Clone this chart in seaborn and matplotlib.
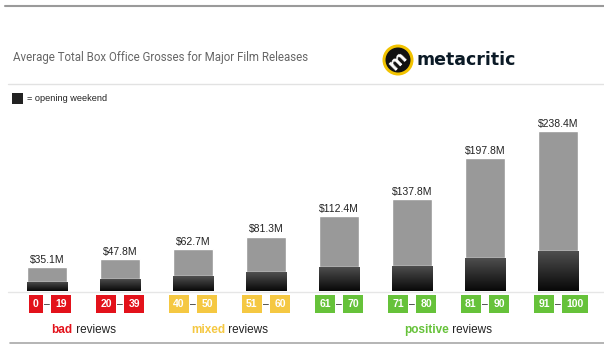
import numpy as np
import matplotlib
matplotlib.use("Agg")
import matplotlib.pyplot as plt
import matplotlib.transforms as mtransforms
from matplotlib.patches import Circle, Rectangle
import seaborn as sns

# score ranges and grosses (millions of dollars)
range_lo = ["0", "20", "40", "51", "61", "71", "81", "91"]
range_hi = ["19", "39", "50", "60", "70", "80", "90", "100"]
total_gross = [35.1, 47.8, 62.7, 81.3, 112.4, 137.8, 197.8, 238.4]
opening_gross = [14, 18, 22, 28, 36, 38, 50, 60]
groups = ["bad", "mixed", "positive"]
group_of = [0, 0, 1, 1, 2, 2, 2, 2]
group_colors = ["#e3121b", "#f5c842", "#66c23a"]

sns.set_theme(style="white")
plt.rcParams["font.family"] = ["Liberation Sans", "DejaVu Sans"]

W, H = 604, 353
fig = plt.figure(figsize=(W / 100, H / 100), dpi=100)
fig.patch.set_facecolor("white")

# overlay in pixel coords for decorations
fx = fig.add_axes([0, 0, 1, 1], zorder=0)
fx.set_xlim(0, W)
fx.set_ylim(H, 0)
fx.axis("off")

base_px, top_px = 291, 100
ax = fig.add_axes([0, (H - base_px) / H, 1, (base_px - top_px) / H], zorder=1)
ax.patch.set_alpha(0)

labels = [f"{a}-{b}" for a, b in zip(range_lo, range_hi)]
sns.barplot(x=labels, y=total_gross, color="#999999", width=0.55,
            saturation=1, ax=ax)
sns.barplot(x=labels, y=opening_gross, color="#222222", width=0.55,
            saturation=1, ax=ax)
ax.axis("off")

# gradient for opening weekend part
grad = np.linspace(0, 1, 100).reshape(-1, 1)
cmap = matplotlib.colors.LinearSegmentedColormap.from_list("ow", ["#080808", "#505050"])
n = len(labels)
for p in ax.patches[n:]:
    x0, y0 = p.get_x(), p.get_y()
    w, h = p.get_width(), p.get_height()
    im = ax.imshow(grad, cmap=cmap, origin="lower", aspect="auto",
                   extent=(x0, x0 + w, y0, y0 + h), zorder=3)
    im.set_clip_path(p)
ax.set_xlim(-47 / 73, (W - 47) / 73)
ax.set_ylim(0, (base_px - top_px) / 0.67)

# value labels
for i, v in enumerate(total_gross):
    ax.annotate(f"${v}M", (i, v), xytext=(0, 1.5), textcoords="offset points",
                ha="center", va="bottom", fontsize=7.5, color="#222222", zorder=5)

# lines
fx.plot([5, W], [6, 6], color="#9a9a9a", lw=1.5)
fx.plot([8, W], [84, 84], color="#e2e2e2", lw=1)
fx.plot([8, W], [292, 292], color="#e6e6e6", lw=1)
fx.plot([10, W], [343, 343], color="#a8a8a8", lw=1.2)

# title
fx.text(13, 57, "Average Total Box Office Grosses for Major Film Releases",
        fontsize=8.3, color="#666666", va="center", ha="left",
        family=["Roboto", "DejaVu Sans"])

# logo
fx.add_patch(Circle((398, 60), 15.5, facecolor="#f2c300", edgecolor="none"))
fx.add_patch(Circle((398, 60), 12.5, facecolor="#111111", edgecolor="none"))
fx.text(398, 60.5, "m", color="white", fontsize=13, fontweight="bold",
        ha="center", va="center", rotation=45, family="DejaVu Sans")
fx.text(416, 60, "metacritic", fontsize=12.5, fontweight="bold", color="#0b1a26",
        ha="left", va="center", family="DejaVu Sans")

# legend
lg = Rectangle((12, 93), 11, 11, facecolor="#222222", edgecolor="none")
fx.add_patch(lg)
fx.text(27, 98.5, "= opening weekend", fontsize=6.6, color="#222222",
        ha="left", va="center")

# range boxes under bars
tr = mtransforms.blended_transform_factory(ax.transData, fx.transData)
for i in range(n):
    c = group_colors[group_of[i]]
    box = dict(boxstyle="square,pad=0.4", facecolor=c, edgecolor="none")
    ax.annotate(range_lo[i], (i, 304), xycoords=tr, xytext=(-6, 0),
                textcoords="offset points", ha="right", va="center",
                fontsize=7.5, fontweight="bold", color="white", bbox=box)
    ax.annotate(range_hi[i], (i, 304), xycoords=tr, xytext=(6, 0),
                textcoords="offset points", ha="left", va="center",
                fontsize=7.5, fontweight="bold", color="white", bbox=box)
    ax.annotate("\u2013", (i, 304), xycoords=tr, ha="center", va="center",
                fontsize=7.5, color="#222222", annotation_clip=False)

# group captions, centred under their bars
fig.canvas.draw()
rend = fig.canvas.get_renderer()
for g, name in enumerate(groups):
    idx = [i for i in range(n) if group_of[i] == g]
    cx = np.mean(idx)
    t1 = ax.text(cx, 330, name, transform=tr, fontsize=8.5, fontweight="bold",
                 color=group_colors[g], ha="left", va="center")
    t2 = ax.annotate(" reviews", xy=(1, 0), xycoords=t1, ha="left", va="bottom",
                     fontsize=8.5, color="#222222")
    fig.canvas.draw()
    e1 = t1.get_window_extent(rend)
    e2 = t2.get_window_extent(rend)
    total_w = e2.x1 - e1.x0
    px = ax.transData.transform((cx, 0))[0] - total_w / 2
    t1.set_x(ax.transData.inverted().transform((px, 0))[0])

fig.savefig("out.png", dpi=100, facecolor="white")
